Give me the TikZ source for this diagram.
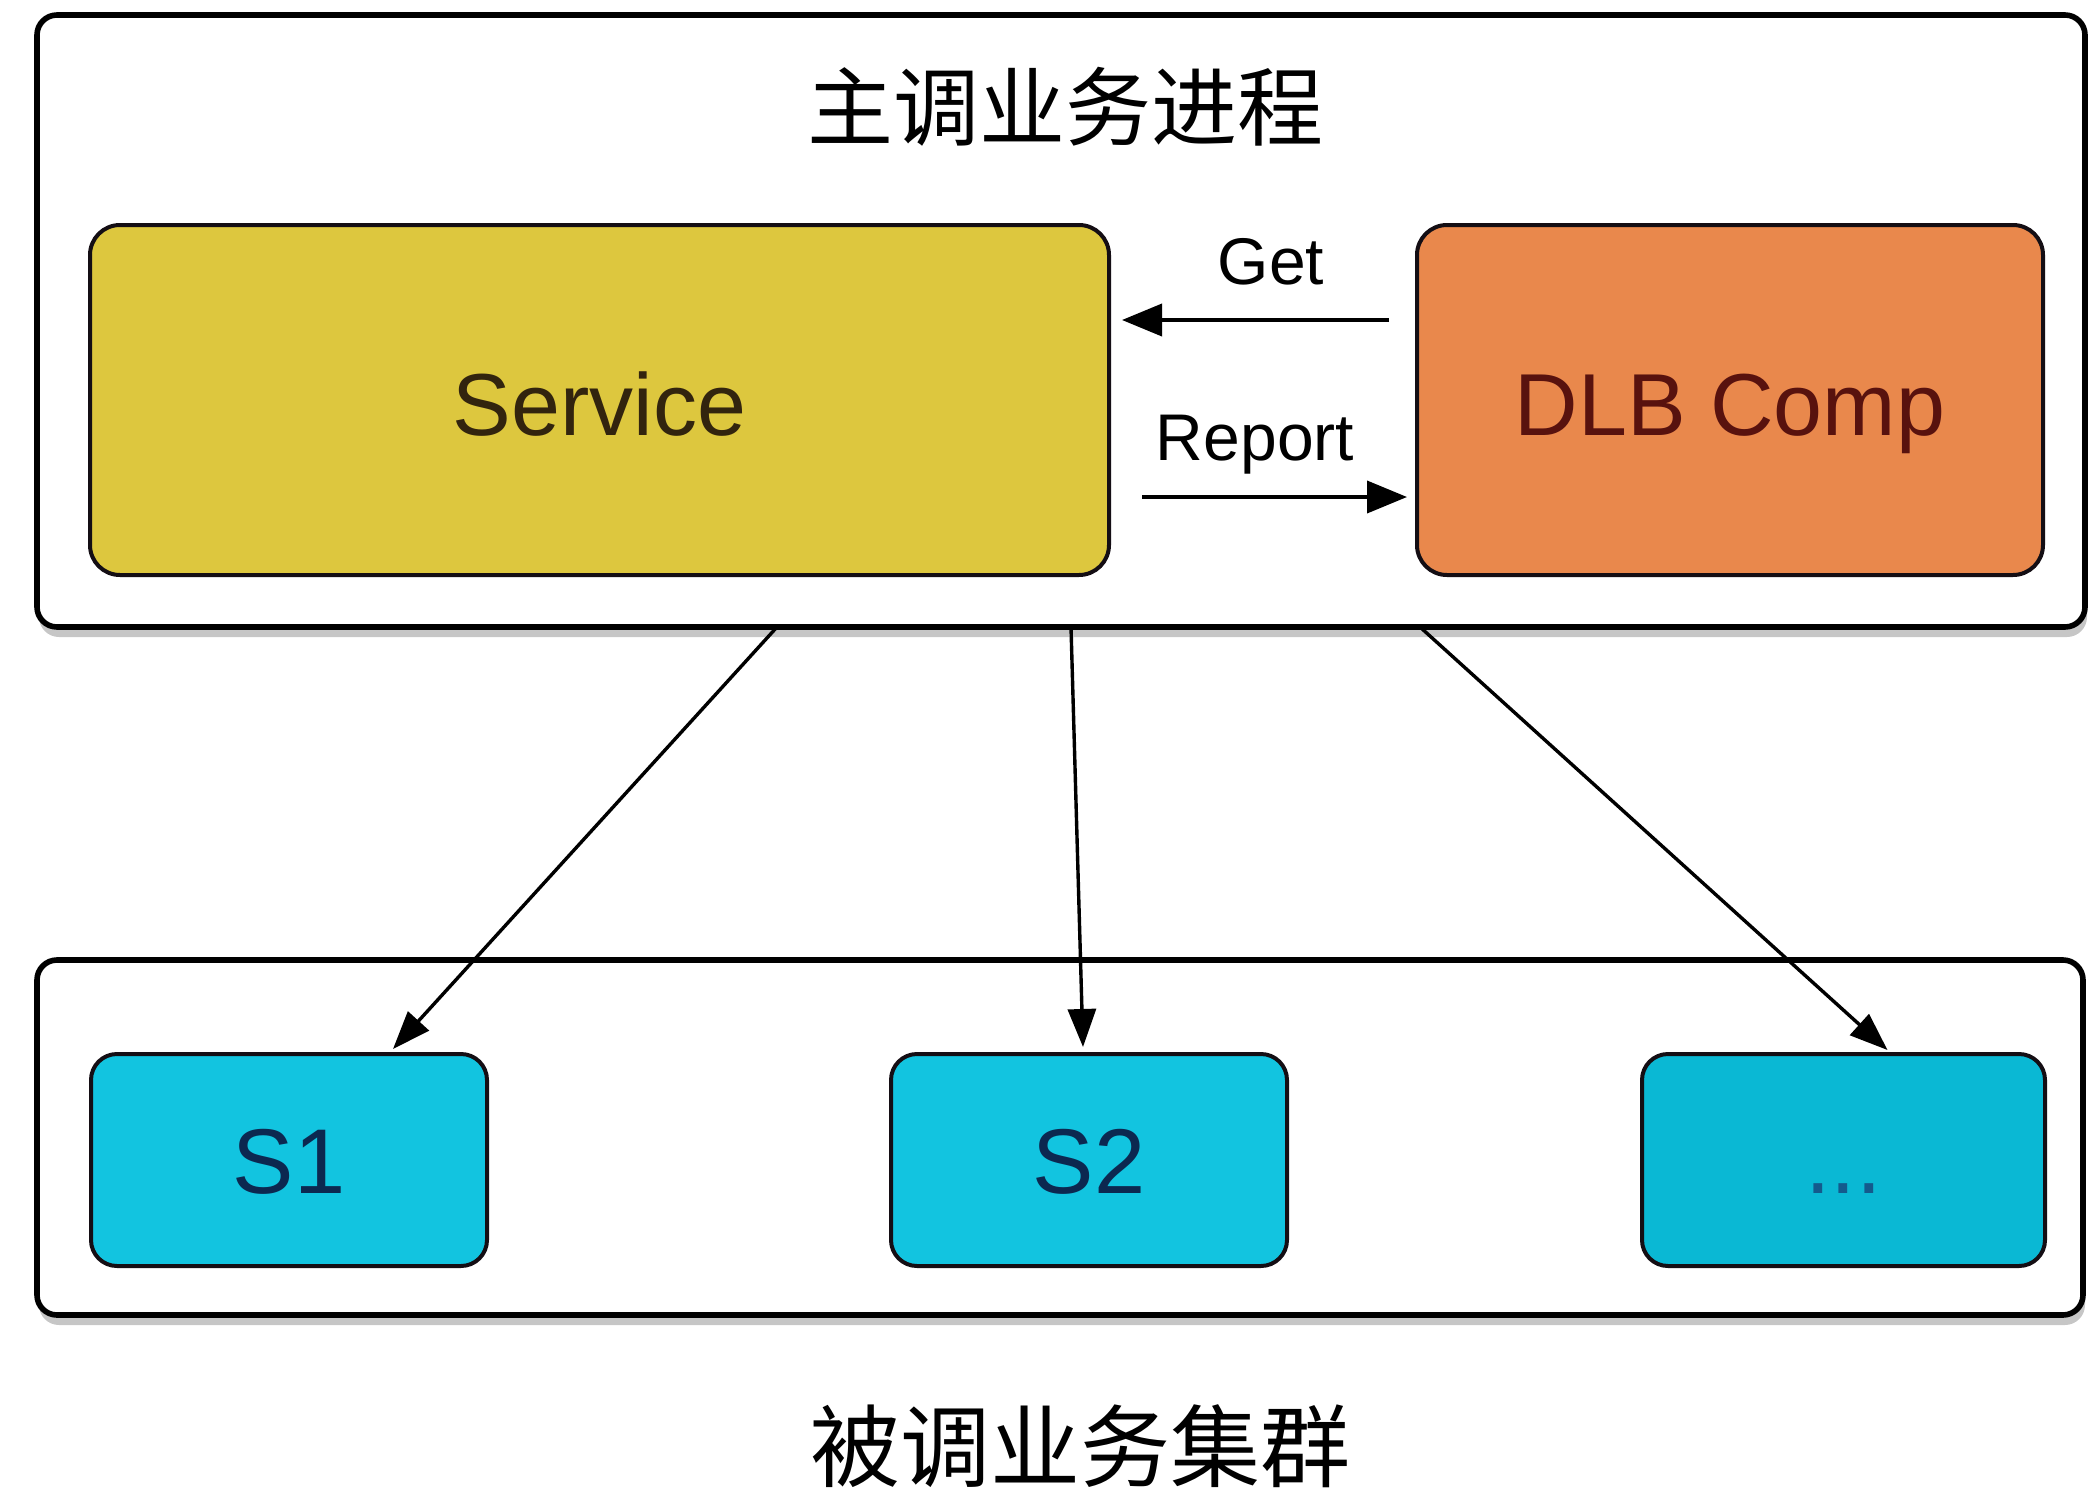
\documentclass[tikz,border=0pt]{standalone}
\usepackage{fontspec}
\setmainfont{Liberation Sans}
\newfontfamily\cjk{Noto Sans CJK SC}
\usetikzlibrary{arrows.meta,shadows,calc}
\definecolor{svcfill}{RGB}{221,199,62}
\definecolor{svctext}{RGB}{50,36,14}
\definecolor{dlbfill}{RGB}{233,136,76}
\definecolor{dlbtext}{RGB}{88,18,14}
\definecolor{cyanfill}{RGB}{18,196,224}
\definecolor{dotsfill}{RGB}{10,184,212}
\definecolor{stext}{RGB}{12,40,80}
\definecolor{dotstext}{RGB}{20,90,140}
\definecolor{boxline}{RGB}{20,14,20}
\begin{document}
\begin{tikzpicture}[x=0.5pt,y=-0.5pt,
  outerbox/.style={draw=black, line width=2.8pt, rounded corners=10pt, fill=white, outer sep=0pt,
    drop shadow={shadow xshift=1pt, shadow yshift=-5pt, opacity=0.45}},
  compbox/.style={draw=boxline, line width=2pt, rounded corners=15pt, outer sep=0pt,
    minimum height=175pt, text height=35.5pt, text depth=0pt, font=\fontsize{44}{44}\selectfont},
  sbox/.style={draw=boxline, line width=2pt, rounded corners=13pt, fill=cyanfill, outer sep=0pt,
    minimum width=198pt, minimum height=106pt, text=stext, text height=33pt, text depth=0pt,
    font=\fontsize{46}{46}\selectfont},
  lbl/.style={font=\fontsize{33}{33}\selectfont, anchor=base, inner sep=0pt},
  cjklbl/.style={font=\cjk\fontsize{43}{43}\selectfont, inner sep=0pt},
  arr/.style={line width=1.9pt, -{Triangle[length=20pt,width=16pt]}},
  darr/.style={line width=1.7pt, -{Triangle[length=19pt,width=14pt]}},
]
\useasboundingbox (0,0) rectangle (2090,1505);
% outer boxes
\node[outerbox, minimum width=1023pt, minimum height=177.5pt] (cluster) at (1060,1137.5) {};
\node[outerbox, minimum width=1024pt, minimum height=306pt] (main) at (1061,321) {};
% titles
\node[cjklbl] (title) at (1065,107) {主调业务进程};
\node[cjklbl, font=\cjk\fontsize{45}{45}\selectfont] (ctitle) at (1080,1446) {被调业务集群};
% components
\node[compbox, fill=svcfill, text=svctext, minimum width=509.5pt] (svc) at (599.5,400) {Service};
\node[compbox, fill=dlbfill, text=dlbtext, minimum width=313pt] (dlb) at (1730,400) {DLB Comp};
% services
\node[sbox] (s1) at (289,1160) {S1};
\node[sbox] (s2) at (1089,1160) {S2};
\node[sbox, fill=dotsfill, text=dotstext, minimum width=201.5pt] (dots) at (1843.5,1160) {...};
% labels
\node[lbl] (get) at (1271,284) {Get};
\node[lbl] (report) at (1255,460) {Report};
% arrows between components
\draw[arr] ([xshift=-14pt,yshift=40pt]dlb.west) -- ([xshift=6.5pt,yshift=40pt]svc.east);
\draw[arr] ([xshift=16.5pt,yshift=-48.5pt]svc.east) -- ([xshift=-5pt,yshift=-48.5pt]dlb.west);
% arrows down to cluster
\draw[darr] ([xshift=370pt]main.south west) -- ([xshift=52pt,yshift=2.5pt]s1.north);
\draw[darr] ([xshift=517pt]main.south west) -- ([xshift=-3pt,yshift=3.5pt]s2.north);
\draw[darr] ([xshift=691.5pt]main.south west) -- ([xshift=22pt,yshift=2pt]dots.north);
\end{tikzpicture}
\end{document}
